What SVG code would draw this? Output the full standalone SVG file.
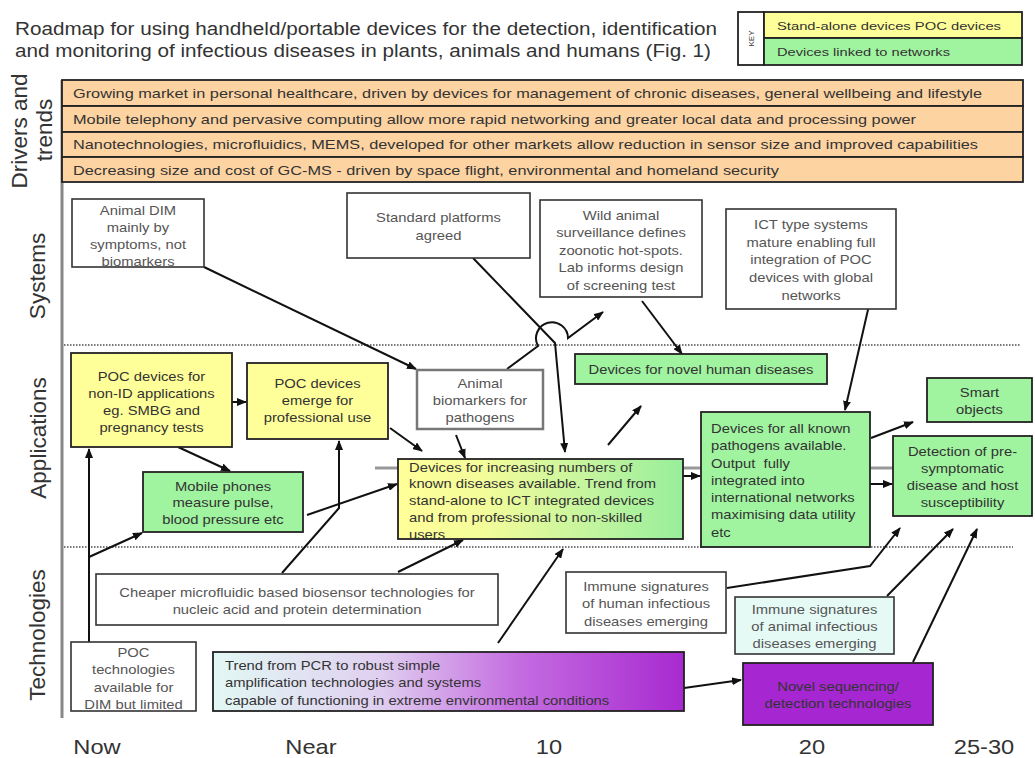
<svg xmlns="http://www.w3.org/2000/svg" width="1035" height="758" viewBox="0 0 1035 758">
<style>
.t{font-family:"Liberation Sans",Arial,Helvetica,sans-serif;fill:#333}
.bx{font-size:12.8px}
.wt{fill:#555}
.lbl{font-size:22.5px;fill:#333}
.drv{font-size:13.5px;fill:#333}
.ax{font-size:20.5px;fill:#333}
.wb{fill:#fff;stroke:#333;stroke-width:1.6}
.gb{fill:#a0f4a0;stroke:#222;stroke-width:1.8}
.yb{fill:#ffff99;stroke:#222;stroke-width:1.8}
.ob{fill:#fdd3a2;stroke:#222;stroke-width:1.8}
.c{fill:none;stroke:#111;stroke-width:2}
.dot{stroke:#777;stroke-width:2;stroke-dasharray:1.5 1.5}
</style>
<defs>
<marker id="arr" markerUnits="userSpaceOnUse" markerWidth="10" markerHeight="8" refX="9" refY="4" orient="auto" viewBox="0 0 10 8"><path d="M0,0 L10,4 L0,8 z" fill="#111"/></marker>
<linearGradient id="gInc" x1="0" y1="0" x2="1" y2="0"><stop offset="0" stop-color="#ffff99"/><stop offset="0.3" stop-color="#f4fc9a"/><stop offset="0.7" stop-color="#c0f49e"/><stop offset="1" stop-color="#98ee9b"/></linearGradient>
<linearGradient id="gTr" x1="0" y1="0" x2="1" y2="0"><stop offset="0" stop-color="#e2f8f4"/><stop offset="0.35" stop-color="#e0d0f0"/><stop offset="0.65" stop-color="#c46ce0"/><stop offset="1" stop-color="#a82ad0"/></linearGradient>
</defs>
<rect width="1035" height="758" fill="#fff"/>

<g id="title">
<text class="t" x="15" y="35" font-size="17.5" textLength="702" lengthAdjust="spacingAndGlyphs">Roadmap for using handheld/portable devices for the detection, identification</text>
<text class="t" x="15" y="57" font-size="17.5" textLength="696" lengthAdjust="spacingAndGlyphs">and monitoring of infectious diseases in plants, animals and humans (Fig. 1)</text>
</g>

<g id="key">
<rect x="738" y="12" width="26" height="53" fill="#fff" stroke="#222" stroke-width="1.8"/>
<rect x="764" y="12" width="258" height="26" class="yb"/>
<rect x="764" y="38" width="258" height="27" class="gb"/>
<text class="t" transform="translate(754 38.5) rotate(-90)" font-size="8" text-anchor="middle">KEY</text>
<text class="t" x="777" y="29.5" font-size="11" textLength="224" lengthAdjust="spacingAndGlyphs">Stand-alone devices POC devices</text>
<text class="t" x="777" y="56" font-size="11" textLength="173" lengthAdjust="spacingAndGlyphs">Devices linked to networks</text>
</g>

<g id="section-labels">
<text class="t lbl" transform="translate(27 131) rotate(-90)" text-anchor="middle">Drivers and</text>
<text class="t lbl" transform="translate(52 130) rotate(-90)" text-anchor="middle">trends</text>
<text class="t lbl" transform="translate(45 276) rotate(-90)" text-anchor="middle">Systems</text>
<text class="t lbl" transform="translate(46 438) rotate(-90)" text-anchor="middle">Applications</text>
<text class="t lbl" transform="translate(45 635) rotate(-90)" text-anchor="middle">Technologies</text>
</g>

<g id="axes">
<line x1="62" y1="80" x2="62" y2="718" stroke="#888" stroke-width="3"/>
<line class="dot" x1="64" y1="345" x2="1021" y2="345"/>
<line class="dot" x1="64" y1="547" x2="1013" y2="547"/>
<text class="t ax" transform="translate(97 754) scale(1.155 1)" text-anchor="middle">Now</text>
<text class="t ax" transform="translate(311 754) scale(1.155 1)" text-anchor="middle">Near</text>
<text class="t ax" transform="translate(549 754) scale(1.155 1)" text-anchor="middle">10</text>
<text class="t ax" transform="translate(812 754) scale(1.155 1)" text-anchor="middle">20</text>
<text class="t ax" transform="translate(984 754) scale(1.155 1)" text-anchor="middle">25-30</text>
</g>

<g id="drivers">
<rect x="62" y="80" width="961" height="26" class="ob"/>
<rect x="62" y="106" width="961" height="26" class="ob"/>
<rect x="62" y="132" width="961" height="25" class="ob"/>
<rect x="62" y="157" width="961" height="25" class="ob"/>
<text class="t drv" x="73" y="98" textLength="909" lengthAdjust="spacingAndGlyphs">Growing market in personal healthcare, driven by devices for management of chronic diseases, general wellbeing and lifestyle</text>
<text class="t drv" x="73" y="124" textLength="843" lengthAdjust="spacingAndGlyphs">Mobile telephony and pervasive computing allow more rapid networking and greater local data and processing power</text>
<text class="t drv" x="73" y="149" textLength="905" lengthAdjust="spacingAndGlyphs">Nanotechnologies, microfluidics, MEMS, developed for other markets allow reduction in sensor size and improved capabilities</text>
<text class="t drv" x="73" y="175" textLength="706" lengthAdjust="spacingAndGlyphs">Decreasing size and cost of GC-MS - driven by space flight, environmental and homeland security</text>
</g>

<line id="timeline-bar" x1="375" y1="468" x2="893" y2="468" stroke="#999" stroke-width="3"/>

<g id="connectors">
<path class="c" d="M204 267 L416 369" marker-end="url(#arr)"/>
<path class="c" d="M473 258 L555 343 L565 452" marker-end="url(#arr)"/>
<path class="c" d="M507 369 L538 346 A16 16 0 1 1 568 338 L603 312" marker-end="url(#arr)"/>
<path class="c" d="M642 301 L682 354" marker-end="url(#arr)"/>
<path class="c" d="M870 301 L845 410" marker-end="url(#arr)"/>
<path class="c" d="M232 402 L246 402" marker-end="url(#arr)"/>
<path class="c" d="M178 447 L230 471" marker-end="url(#arr)"/>
<path class="c" d="M390 428 L422 451" marker-end="url(#arr)"/>
<path class="c" d="M456 435 L465 458" marker-end="url(#arr)"/>
<path class="c" d="M307 515 L397 484" marker-end="url(#arr)"/>
<path class="c" d="M282 573 L339 508 L339 441" marker-end="url(#arr)"/>
<path class="c" d="M398 572 L463 540" marker-end="url(#arr)"/>
<path class="c" d="M89 642 L89 449" marker-end="url(#arr)"/>
<path class="c" d="M89 557 L142 533" marker-end="url(#arr)"/>
<path class="c" d="M498 643 L563 549" marker-end="url(#arr)"/>
<path class="c" d="M608 445 L641 406" marker-end="url(#arr)"/>
<path class="c" d="M683 476 L700 476" marker-end="url(#arr)"/>
<path class="c" d="M871 438 L913 422" marker-end="url(#arr)"/>
<path class="c" d="M870 484 L892 484" marker-end="url(#arr)"/>
<path class="c" d="M727 588 L870 566 L900 528" marker-end="url(#arr)"/>
<path class="c" d="M887 596 L953 529" marker-end="url(#arr)"/>
<path class="c" d="M913 662 L977 529" marker-end="url(#arr)"/>
<path class="c" d="M684 688 L741 680" marker-end="url(#arr)"/>
</g>

<g id="animal-dim">
<rect x="72" y="199" width="132" height="68" class="wb"/>
<text class="t bx wt" transform="translate(138 215) scale(1.155 1)" text-anchor="middle"><tspan x="0">Animal DIM</tspan><tspan x="0" dy="17">mainly by</tspan><tspan x="0" dy="17">symptoms, not</tspan><tspan x="0" dy="17">biomarkers</tspan></text>
</g>
<g id="standard-platforms">
<rect x="347" y="193" width="183" height="65" class="wb"/>
<text class="t bx wt" transform="translate(438.5 222) scale(1.155 1)" text-anchor="middle"><tspan x="0">Standard platforms</tspan><tspan x="0" dy="18">agreed</tspan></text>
</g>
<g id="wild-animal">
<rect x="540" y="200" width="162" height="97" class="wb"/>
<text class="t bx wt" transform="translate(621 220) scale(1.155 1)" text-anchor="middle"><tspan x="0">Wild animal</tspan><tspan x="0" dy="17.5">surveillance defines</tspan><tspan x="0" dy="17.5">zoonotic hot-spots.</tspan><tspan x="0" dy="17.5">Lab informs design</tspan><tspan x="0" dy="17.5">of screening test</tspan></text>
</g>
<g id="ict-systems">
<rect x="726" y="209" width="170" height="100" class="wb"/>
<text class="t bx wt" transform="translate(811 229) scale(1.155 1)" text-anchor="middle"><tspan x="0">ICT type systems</tspan><tspan x="0" dy="17.7">mature enabling full</tspan><tspan x="0" dy="17.7">integration of POC</tspan><tspan x="0" dy="17.7">devices with global</tspan><tspan x="0" dy="17.7">networks</tspan></text>
</g>
<g id="poc-non-id">
<rect x="71" y="353" width="161" height="94" class="yb"/>
<text class="t bx" transform="translate(151.5 381) scale(1.155 1)" text-anchor="middle"><tspan x="0">POC devices for</tspan><tspan x="0" dy="17">non-ID applications</tspan><tspan x="0" dy="17">eg. SMBG and</tspan><tspan x="0" dy="17">pregnancy tests</tspan></text>
</g>
<g id="poc-professional">
<rect x="247" y="363" width="141" height="76" class="yb"/>
<text class="t bx" transform="translate(317.5 388) scale(1.155 1)" text-anchor="middle"><tspan x="0">POC devices</tspan><tspan x="0" dy="17">emerge for</tspan><tspan x="0" dy="17">professional use</tspan></text>
</g>
<g id="animal-biomarkers">
<rect x="417" y="370" width="126" height="59" fill="#fff" stroke="#777" stroke-width="2.5"/>
<text class="t bx wt" transform="translate(480 388) scale(1.155 1)" text-anchor="middle"><tspan x="0">Animal</tspan><tspan x="0" dy="17">biomarkers for</tspan><tspan x="0" dy="17">pathogens</tspan></text>
</g>
<g id="novel-human">
<rect x="575" y="354" width="252" height="30" class="gb"/>
<text class="t bx" transform="translate(701 373.5) scale(1.155 1)" text-anchor="middle">Devices for novel human diseases</text>
</g>
<g id="smart-objects">
<rect x="927" y="378" width="105" height="44" class="gb"/>
<text class="t bx" transform="translate(979.5 397) scale(1.155 1)" text-anchor="middle"><tspan x="0">Smart</tspan><tspan x="0" dy="17">objects</tspan></text>
</g>
<g id="detection">
<rect x="893" y="436" width="139" height="80" class="gb"/>
<text class="t bx" transform="translate(962.5 456) scale(1.155 1)" text-anchor="middle"><tspan x="0">Detection of pre-</tspan><tspan x="0" dy="17">symptomatic</tspan><tspan x="0" dy="17">disease and host</tspan><tspan x="0" dy="17">susceptibility</tspan></text>
</g>
<g id="all-known">
<rect x="701" y="412" width="169" height="135" class="gb"/>
<text class="t bx" transform="translate(711 433) scale(1.155 1)"><tspan x="0">Devices for all known</tspan><tspan x="0" dy="17.3">pathogens available.</tspan><tspan x="0" dy="17.3">Output&#160; fully</tspan><tspan x="0" dy="17.3">integrated into</tspan><tspan x="0" dy="17.3">international networks</tspan><tspan x="0" dy="17.3">maximising data utility</tspan><tspan x="0" dy="17.3">etc</tspan></text>
</g>
<g id="increasing">
<rect x="398" y="459" width="285" height="80" fill="url(#gInc)" stroke="#222" stroke-width="1.8"/>
<text class="t bx" transform="translate(409 471.5) scale(1.155 1)"><tspan x="0">Devices for increasing numbers of</tspan><tspan x="0" dy="17">known diseases available. Trend from</tspan><tspan x="0" dy="17">stand-alone to ICT integrated devices</tspan><tspan x="0" dy="17">and from professional to non-skilled</tspan><tspan x="0" dy="17">users</tspan></text>
</g>
<g id="mobile-phones">
<rect x="143" y="472" width="160" height="60" class="gb"/>
<text class="t bx" transform="translate(223 491) scale(1.155 1)" text-anchor="middle"><tspan x="0">Mobile phones</tspan><tspan x="0" dy="16.5">measure pulse,</tspan><tspan x="0" dy="16.5">blood pressure etc</tspan></text>
</g>
<g id="cheaper-microfluidic">
<rect x="96" y="574" width="402" height="51" class="wb"/>
<text class="t bx wt" transform="translate(297 597) scale(1.155 1)" text-anchor="middle"><tspan x="0">Cheaper microfluidic based biosensor technologies for</tspan><tspan x="0" dy="17">nucleic acid and protein determination</tspan></text>
</g>
<g id="poc-technologies">
<rect x="71" y="642" width="125" height="69" class="wb"/>
<text class="t bx wt" transform="translate(133.5 657) scale(1.155 1)" text-anchor="middle"><tspan x="0">POC</tspan><tspan x="0" dy="17.3">technologies</tspan><tspan x="0" dy="17.3">available for</tspan><tspan x="0" dy="17.3">DIM but limited</tspan></text>
</g>
<g id="trend-pcr">
<rect x="213" y="652" width="471" height="59" fill="url(#gTr)" stroke="#222" stroke-width="1.8"/>
<text class="t bx" transform="translate(225 670) scale(1.155 1)"><tspan x="0">Trend from PCR to robust simple</tspan><tspan x="0" dy="17.5">amplification technologies and systems</tspan><tspan x="0" dy="17.5">capable of functioning in extreme environmental conditions</tspan></text>
</g>
<g id="novel-sequencing">
<rect x="743" y="663" width="190" height="62" fill="#a626d1" stroke="#222" stroke-width="1.8"/>
<text class="t bx" transform="translate(838 691) scale(1.155 1)" text-anchor="middle"><tspan x="0">Novel sequencing/</tspan><tspan x="0" dy="17">detection technologies</tspan></text>
</g>
<g id="immune-human">
<rect x="566" y="572" width="160" height="61" class="wb"/>
<text class="t bx wt" transform="translate(646 591) scale(1.155 1)" text-anchor="middle"><tspan x="0">Immune signatures</tspan><tspan x="0" dy="17.5">of human infectious</tspan><tspan x="0" dy="17.5">diseases emerging</tspan></text>
</g>
<g id="immune-animal">
<rect x="735" y="597" width="159" height="57" fill="#e6faf5" stroke="#333" stroke-width="1.6"/>
<text class="t bx wt" transform="translate(814.5 614) scale(1.155 1)" text-anchor="middle"><tspan x="0">Immune signatures</tspan><tspan x="0" dy="17">of animal infectious</tspan><tspan x="0" dy="17">diseases emerging</tspan></text>
</g>
</svg>
